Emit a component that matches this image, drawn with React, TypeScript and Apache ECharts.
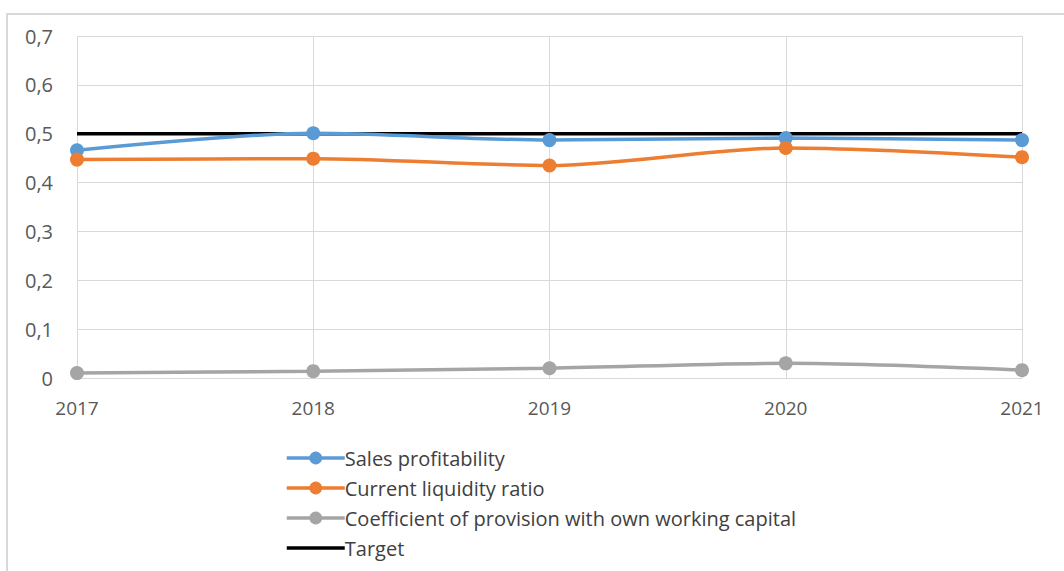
import React, { useEffect, useRef } from "react";
import * as echarts from "echarts";

const years = ["2017", "2018", "2019", "2020", "2021"];
const salesProfitability = [0.466, 0.501, 0.487, 0.491, 0.487];
const currentLiquidity = [0.447, 0.449, 0.435, 0.471, 0.452];
const coefficientProvision = [0.01, 0.014, 0.02, 0.03, 0.016];
const target = [0.5, 0.5, 0.5, 0.5, 0.5];
const yTicks = [0, 0.1, 0.2, 0.3, 0.4, 0.5, 0.6, 0.7];

const FONT = "'Open Sans', sans-serif";

export default function App() {
  const ref = useRef<HTMLDivElement>(null);
  useEffect(() => {
    document.body.style.margin = "0";
    if (!ref.current) return;
    const chart = echarts.init(ref.current, undefined, { renderer: "svg" });
    const mk = (name: string, data: number[], color: string, symbol = true) => ({
      name,
      type: "line",
      data,
      smooth: 0.3,
      symbol: symbol ? "circle" : "none",
      symbolSize: 14,
      showSymbol: symbol,
      lineStyle: { color, width: 3.5 },
      itemStyle: { color },
      z: symbol ? 3 : 2,
    });
    chart.setOption({
      animation: false,
      backgroundColor: "#fff",
      graphic: [
        {
          type: "rect",
          shape: { x: 7, y: 14, width: 1100, height: 600 },
          style: { fill: "none", stroke: "#d9d9d9", lineWidth: 2 },
          silent: true,
        },
      ],
      grid: { left: 77, right: 42, top: 36, bottom: 193, containLabel: false },
      xAxis: {
        type: "category",
        data: years,
        boundaryGap: false,
        axisLine: { show: true, lineStyle: { color: "#d9d9d9", width: 1 } },
        axisTick: { show: false },
        splitLine: { show: true, lineStyle: { color: "#d9d9d9", width: 1 } },
        axisLabel: { color: "#595959", fontSize: 19, fontFamily: FONT, margin: 20 },
      },
      yAxis: {
        type: "value",
        min: yTicks[0],
        max: yTicks[yTicks.length - 1],
        interval: 0.1,
        axisLine: { show: false },
        axisTick: { show: false },
        splitLine: { show: true, lineStyle: { color: "#d9d9d9", width: 1 } },
        axisLabel: {
          color: "#595959",
          fontSize: 20,
          fontFamily: FONT,
          margin: 24,
          formatter: (v: number) => (Math.round(v * 10) / 10).toString().replace(".", ","),
        },
      },
      legend: {
        orient: "vertical",
        left: 280,
        top: 443,
        itemWidth: 58,
        itemHeight: 16,
        itemGap: 10,
        lineStyle: { width: 3.5 },
        textStyle: { color: "#404040", fontSize: 20, fontFamily: FONT, padding: [0, 0, 0, -5] },
        data: [
          { name: "Sales profitability" },
          { name: "Current liquidity ratio" },
          { name: "Coefficient of provision with own working capital" },
          { name: "Target", itemStyle: { opacity: 0 } },
        ],
      },
      series: [
        mk("Target", target, "#000000", false),
        mk("Sales profitability", salesProfitability, "#5B9BD5"),
        mk("Current liquidity ratio", currentLiquidity, "#ED7D31"),
        mk("Coefficient of provision with own working capital", coefficientProvision, "#A5A5A5"),
      ],
    });
    return () => chart.dispose();
  }, []);
  return <div ref={ref} style={{ width: 1064, height: 571 }} />;
}
